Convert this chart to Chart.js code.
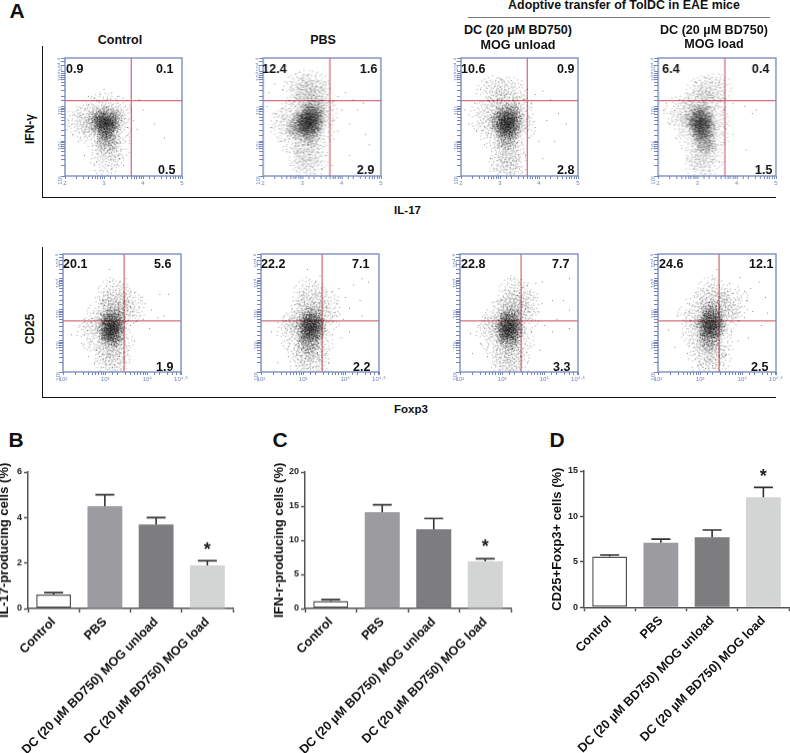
<!DOCTYPE html>
<html>
<head>
<meta charset="utf-8">
<script src="https://cdn.jsdelivr.net/npm/chart.js@4/dist/chart.umd.min.js"></script>
<style>
html, body { margin: 0; padding: 0; background: #fff; }
#page { position: relative; width: 790px; height: 753px; overflow: hidden; font-family: "Liberation Sans", Arial, sans-serif; }
#page canvas { position: absolute; }
.lbl { position: absolute; font-weight: bold; color: #111; white-space: nowrap; transform: translate(-50%, -50%); }
.line { position: absolute; background: #111; }
</style>
</head>
<body>
<div id="page"></div>
<script>
// bar values
const barCategories = ['Control', 'PBS', 'DC (20 µM BD750) MOG unload', 'DC (20 µM BD750) MOG load'];
const il17Values = [0.62, 4.5, 3.7, 1.9];
const il17ErrTop = [0.7, 5.0, 4.0, 2.1];
const ifnValues = [1.1, 14.1, 11.6, 6.9];
const ifnErrTop = [1.3, 15.2, 13.2, 7.3];
const cd25Values = [5.6, 7.1, 7.7, 12.1];
const cd25ErrTop = [5.75, 7.5, 8.5, 13.2];

// quadrant percentages, [upper left, upper right, lower right]
const ifnQuadrants = [['0.9', '0.1', '0.5'], ['12.4', '1.6', '2.9'], ['10.6', '0.9', '2.8'], ['6.4', '0.4', '1.5']];
const foxpQuadrants = [['20.1', '5.6', '1.9'], ['22.2', '7.1', '2.2'], ['22.8', '7.7', '3.3'], ['24.6', '12.1', '2.5']];

// gates, as log10 of the axis value
const ifnGate = [3.70, 3.17];
const foxpGate = [3.45, 2.645];

// Flow clouds are estimated by eye, [log10 x, log10 y]. The real events can't be read one
// by one: core and mid are local density centres drawn with a speckle marker, stray are
// single dots. The speckle only stands in for density, it is not individual events.
const p1Core = [[3.08,2.5],[3.0,2.7],[3.12,2.3],[3.08,2.0],[2.85,2.55],[3.2,2.65],[3.05,2.55],[3.0,2.4]];
const p1Mid = [[2.6,2.6],[2.4,2.55],[2.75,2.3],[3.3,2.4],[3.1,1.7],[3.05,1.4],[2.95,2.95],[3.3,2.85],[2.7,2.8],[3.3,1.9]];
const p1Stray = [[2.1,2.6],[2.2,2.2],[2.35,2.0],[2.5,1.6],[2.75,1.3],[2.9,1.15],[3.2,1.2],[3.4,1.5],[3.55,2.0],[3.6,2.4],[3.75,2.6],[3.85,2.35],[4.3,2.5],[4.0,2.9],[3.9,3.2],[2.6,3.3],[2.9,3.35],[3.2,3.4],[3.35,3.3],[3.45,2.9],[3.7,2.9],[4.55,2.1],[3.0,3.5],[2.75,3.25],[3.5,1.3]];

const p2Core = [[3.19,2.6],[3.1,2.5],[3.25,2.75],[3.2,2.4],[3.0,2.55],[3.1,2.75],[3.3,2.9],[3.2,2.2],[2.9,2.35],[3.3,2.5]];
const p2Mid = [[2.7,2.6],[2.55,2.5],[2.85,2.9],[3.1,3.3],[3.3,3.3],[2.9,3.5],[3.1,3.6],[3.3,3.55],[3.15,1.9],[3.05,1.65],[3.25,1.5],[3.45,2.3],[3.5,2.8],[2.8,2.05],[3.1,1.3],[3.4,3.05]];
const p2Stray = [[2.1,3.0],[2.15,3.4],[2.3,3.65],[2.5,3.5],[2.6,3.7],[2.3,2.8],[2.2,2.4],[2.45,2.0],[2.6,1.7],[2.7,1.3],[3.7,3.5],[3.75,3.1],[3.9,3.3],[4.0,2.9],[4.1,3.4],[3.8,2.6],[3.9,2.3],[3.7,2.0],[4.2,2.5],[4.4,2.9],[4.6,2.2],[4.55,3.1],[3.6,1.6],[3.5,1.2],[4.2,1.6],[3.75,1.3],[4.7,1.9],[4.3,3.2],[3.6,3.7],[2.85,1.15]];

const p3Core = [[3.2,2.55],[3.12,2.45],[3.3,2.6],[3.2,2.3],[3.1,2.7],[3.25,2.8],[3.0,2.55],[3.2,2.05],[3.3,2.4]];
const p3Mid = [[2.8,2.55],[3.0,2.95],[3.3,3.0],[3.05,3.4],[3.3,3.4],[2.8,3.4],[2.9,2.2],[3.2,1.8],[3.1,1.55],[3.3,1.4],[3.5,2.4],[3.5,2.8],[2.6,2.7],[3.15,1.2]];
const p3Stray = [[2.1,2.9],[2.2,2.5],[2.35,3.1],[2.4,2.3],[2.5,3.5],[2.65,3.7],[2.6,1.9],[2.75,1.5],[2.85,1.2],[3.0,3.8],[3.3,3.75],[3.7,3.5],[3.8,3.1],[3.9,3.35],[4.1,3.45],[4.3,3.2],[3.75,2.7],[3.9,2.4],[4.2,2.6],[4.5,2.8],[4.7,2.5],[4.0,2.0],[3.65,1.6],[3.5,1.2],[4.1,1.5],[3.75,2.1],[4.4,2.0],[3.6,3.2]];

const p4Core = [[3.12,2.5],[3.05,2.6],[3.2,2.4],[3.15,2.2],[3.15,2.75],[2.95,2.65],[3.2,1.95],[3.05,2.35]];
const p4Mid = [[2.7,2.6],[2.85,2.9],[3.05,3.05],[3.3,3.0],[3.3,3.4],[3.1,3.4],[3.45,3.5],[3.4,2.6],[2.85,2.2],[3.1,1.7],[3.25,1.5],[3.1,1.3],[3.4,2.1],[2.55,2.85]];
const p4Stray = [[2.15,2.9],[2.3,2.5],[2.4,3.0],[2.2,3.1],[2.45,2.1],[2.6,1.8],[2.75,1.5],[2.9,1.2],[2.75,3.4],[2.95,3.7],[3.3,3.8],[3.55,3.7],[3.7,3.2],[3.65,2.9],[3.75,2.5],[3.9,2.2],[3.6,1.9],[3.55,1.4],[4.2,3.0],[4.4,2.8],[3.9,3.1],[4.5,2.9],[4.25,1.75],[3.3,1.15]];

const p5Core = [[3.17,2.45],[3.1,2.55],[3.2,2.3],[3.15,2.1],[3.25,2.65],[3.05,2.35],[3.12,2.7],[3.2,2.2]];
const p5Mid = [[3.25,3.0],[3.15,3.0],[3.3,3.35],[3.2,3.55],[2.85,2.4],[2.7,2.2],[3.0,1.85],[3.15,1.7],[3.1,1.4],[3.25,1.25],[3.45,2.9],[3.6,3.1],[3.3,2.0],[2.95,2.95]];
const p5Stray = [[2.2,2.2],[2.4,2.5],[2.5,1.9],[2.6,1.5],[2.75,1.3],[2.5,2.7],[2.8,1.7],[3.1,3.9],[2.95,3.3],[3.35,3.9],[3.5,3.5],[3.7,3.55],[3.85,3.4],[3.95,3.2],[4.1,3.0],[4.3,3.5],[4.5,3.5],[4.4,2.8],[3.9,2.7],[3.6,2.5],[3.7,2.0],[3.55,1.7],[3.5,1.3],[4.05,2.4],[3.1,4.3],[4.25,2.75],[3.5,4.0]];

const p6Core = [[3.2,2.35],[3.15,2.55],[3.25,2.6],[3.2,2.15],[3.05,2.4],[3.28,2.4],[3.2,2.75],[3.12,1.95]];
const p6Mid = [[3.2,3.0],[3.05,2.95],[3.25,3.35],[3.15,3.55],[2.85,2.45],[2.75,2.2],[3.0,1.8],[3.15,1.6],[3.25,1.35],[3.05,1.3],[3.5,2.7],[3.55,3.1],[3.35,1.9],[2.9,2.7]];
const p6Stray = [[2.25,2.3],[2.4,2.6],[2.55,2.0],[2.4,1.3],[2.65,1.5],[2.85,1.2],[3.0,3.5],[3.1,4.3],[3.3,3.9],[3.7,3.6],[3.85,3.7],[4.0,3.4],[4.2,3.8],[4.4,4.0],[4.55,3.9],[3.8,3.2],[4.1,3.05],[4.35,3.3],[3.7,2.8],[3.95,2.7],[3.7,2.2],[3.9,2.1],[3.55,1.6],[4.4,2.8],[4.1,2.3],[3.6,1.3],[3.4,4.1]];

const p7Core = [[3.16,2.4],[3.1,2.55],[3.22,2.6],[3.18,2.2],[3.05,2.3],[3.25,2.35],[3.15,2.05],[3.2,2.75]];
const p7Mid = [[3.25,3.0],[3.35,3.3],[3.15,3.05],[3.3,3.6],[2.85,2.45],[2.75,2.2],[3.0,1.75],[3.15,1.55],[3.1,1.3],[3.3,1.3],[3.5,2.75],[3.55,3.2],[3.4,2.0],[2.95,2.8]];
const p7Stray = [[2.25,2.25],[2.45,2.5],[2.5,1.9],[2.65,1.5],[2.85,1.2],[2.6,2.75],[3.0,3.3],[3.4,3.9],[3.6,3.8],[3.8,3.85],[3.95,3.9],[3.75,3.4],[3.95,3.2],[4.2,3.3],[4.45,3.3],[4.6,3.0],[4.3,2.7],[4.0,2.5],[3.7,2.3],[3.55,1.9],[3.9,1.7],[3.6,1.3],[4.2,2.3],[4.6,2.4],[2.3,1.6],[3.2,4.0],[4.6,4.0]];

const p8Core = [[3.28,2.5],[3.2,2.65],[3.3,2.7],[3.25,2.25],[3.15,2.45],[3.35,2.45],[3.28,2.95],[3.22,2.05]];
const p8Mid = [[3.2,3.25],[3.35,3.3],[3.0,2.7],[2.95,2.25],[3.1,1.85],[3.25,1.6],[3.35,1.4],[3.55,2.8],[3.6,3.15],[3.8,3.25],[3.3,3.6],[3.45,2.0],[3.1,1.35],[2.85,2.9]];
const p8Stray = [[2.25,2.35],[2.45,2.8],[2.6,2.2],[2.7,1.6],[2.95,1.2],[2.75,3.2],[2.95,3.5],[3.3,4.0],[3.4,4.3],[3.7,3.85],[3.95,4.05],[4.05,3.6],[4.2,3.7],[4.4,3.9],[4.55,3.4],[4.6,2.9],[4.25,2.95],[4.05,2.75],[3.9,2.65],[3.75,2.3],[3.9,2.0],[4.15,2.1],[3.6,1.55],[3.55,1.2],[4.45,2.5],[2.4,1.8],[4.1,3.3]];

const page = document.getElementById('page');
const FONT = '"Liberation Sans", Arial, sans-serif';
const BLUE = '#7486bc';

function addCanvas(left, top, width, height) {
    const c = document.createElement('canvas');
    c.width = width;
    c.height = height;
    c.style.left = left + 'px';
    c.style.top = top + 'px';
    c.style.width = width + 'px';
    c.style.height = height + 'px';
    page.appendChild(c);
    return c;
}

function addText(text, x, y, size, rotate) {
    const d = document.createElement('div');
    d.className = 'lbl';
    d.textContent = text;
    d.style.left = x + 'px';
    d.style.top = y + 'px';
    d.style.fontSize = size + 'px';
    if (rotate) d.style.transform = 'translate(-50%, -50%) rotate(-90deg)';
    page.appendChild(d);
}

function addLine(x, y, w, h, color) {
    const d = document.createElement('div');
    d.className = 'line';
    d.style.cssText = 'left:' + x + 'px;top:' + y + 'px;width:' + w + 'px;height:' + h + 'px;' + (color ? 'background:' + color : '');
    page.appendChild(d);
}

// speckle marker, one fixed pattern of dots
const speckle = [[0,0],[2,-1],[-3,1],[1,3],[-1,-4],[4,2],[-5,-1],[3,-4],[-2,4],[6,0],[-6,3],[0,-7],[5,5],[-4,-5],[7,-3],[-7,-3],[2,7],[-3,8],[8,3],[-8,1],[4,-8],[-1,-9],[9,-1],[-5,7],[6,-6],[-9,-4],[1,10],[10,4],[-10,0],[3,-11],[-6,-9],[7,8],[-8,6],[11,-2],[-2,11],[-11,-5],[9,-7],[1,-2],[-2,-1],[3,1],[-1,2],[2,4],[-4,-2],[5,-2],[-3,-3],[0,5],[-5,4],[4,-1],[1,-5],[-7,0],[7,1],[6,3],[-3,6],[3,6],[-6,-4],[2,-6],[8,-4],[-9,3],[-1,8],[5,-5],[-4,9],[10,-5],[-10,-7],[4,10],[12,1],[-12,2],[0,-12],[6,-10],[-8,-8],[9,7]];

function makeStamp(scale, alpha) {
    const size = Math.ceil(26 * scale) + 4;
    const c = document.createElement('canvas');
    c.width = size;
    c.height = size;
    const g = c.getContext('2d');
    g.fillStyle = 'rgba(0,0,0,' + alpha + ')';
    speckle.forEach(p => g.fillRect(size / 2 + p[0] * scale, size / 2 + p[1] * scale, 1, 1));
    return c;
}
const coreStamp = makeStamp(0.85, 0.6);
const coreLightStamp = makeStamp(1.05, 0.3);
const midStamp = makeStamp(1.35, 0.38);

const toPoints = list => list.map(p => ({ x: Math.pow(10, p[0]), y: Math.pow(10, p[1]) }));

const plotBox = {
    id: 'plotBox',
    afterDatasetsDraw(chart, args, opts) {
        const a = chart.chartArea, g = chart.ctx;
        g.save();
        g.strokeStyle = BLUE;
        g.lineWidth = 1.3;
        g.strokeRect(a.left, a.top, a.right - a.left, a.bottom - a.top);
        g.fillStyle = '#111';
        g.font = 'bold 12.5px ' + FONT;
        g.textBaseline = 'middle';
        g.fillText(opts.quad[0], a.left + opts.ulX, a.top + opts.topY);
        g.fillText(opts.quad[1], a.left + opts.urX, a.top + opts.topY);
        g.fillText(opts.quad[2], a.left + opts.lrX, a.bottom - opts.botY);
        g.restore();
    }
};

function logTick(labels) {
    return function (v) {
        const e = Math.round(Math.log10(v) * 100) / 100;
        return labels[e] || '';
    };
}

function flowChart(p) {
    const c = addCanvas(p.left - 20, p.top - 8, p.width + 30, p.height + 28);
    new Chart(c, {
        type: 'scatter',
        data: {
            datasets: [
                { data: toPoints(p.core), pointStyle: coreStamp, pointRadius: 3, pointRotation: ctx => ctx.dataIndex * 67 },
                { data: toPoints(p.core), pointStyle: coreLightStamp, pointRadius: 3, pointRotation: ctx => ctx.dataIndex * 131 + 30 },
                { data: toPoints(p.mid), pointStyle: midStamp, pointRadius: 3, pointRotation: ctx => ctx.dataIndex * 53 },
                { data: toPoints(p.stray), pointRadius: 0.5, pointBackgroundColor: 'rgba(0,0,0,0.6)', pointBorderWidth: 0 },
                { data: toPoints([[p.gate[0], p.yMinExp], [p.gate[0], p.yMaxExp]]), showLine: true, pointRadius: 0, borderColor: '#d9707a', borderWidth: 1.3 },
                { data: toPoints([[p.xMinExp, p.gate[1]], [p.xMaxExp, p.gate[1]]]), showLine: true, pointRadius: 0, borderColor: '#d9707a', borderWidth: 1.3 }
            ]
        },
        plugins: [plotBox],
        options: {
            responsive: false,
            animation: false,
            layout: { padding: { top: 8, right: 10, left: 0, bottom: 0 } },
            plugins: {
                legend: { display: false },
                tooltip: { enabled: false },
                plotBox: p.text
            },
            scales: {
                x: {
                    type: 'logarithmic',
                    min: Math.pow(10, p.xMinExp),
                    max: Math.pow(10, p.xMaxExp),
                    afterFit: s => { s.height = 20; },
                    border: { display: false },
                    grid: { drawOnChartArea: false, tickLength: 3, tickColor: BLUE, tickWidth: 1 },
                    ticks: { autoSkip: false, maxRotation: 0, padding: 1, color: BLUE, font: { size: 6, family: FONT }, callback: logTick(p.xLabels) }
                },
                y: {
                    type: 'logarithmic',
                    min: Math.pow(10, p.yMinExp),
                    max: Math.pow(10, p.yMaxExp),
                    afterFit: s => { s.width = 20; },
                    border: { display: false },
                    grid: { drawOnChartArea: false, tickLength: 4, tickColor: BLUE, tickWidth: 1 },
                    ticks: { autoSkip: false, minRotation: 90, maxRotation: 90, padding: 1, color: BLUE, font: { size: 6, family: FONT }, callback: logTick(p.yLabels) }
                }
            }
        }
    });
}

const row1X = { 2: '2', 3: '3', 4: '4', 5: '5' };
const row1Y = { 1: '10¹', 2: '10²', 3: '10³', 4: '10⁴', 4.4: '10⁴·⁴' };
const row2X = { 2: '10²', 3: '10³', 4: '10⁴', 4.8: '10⁴·⁸' };
const row2Y = { 1: '10¹', 2: '10²', 3: '10³', 4: '10⁴', 4.8: '10⁴·⁸' };

const row1 = { top: 57.5, width: 117.5, height: 118, gate: ifnGate, xMinExp: 2, xMaxExp: 5, yMinExp: 1, yMaxExp: 4.4, xLabels: row1X, yLabels: row1Y };
const row2 = { top: 254, width: 118, height: 118, gate: foxpGate, xMinExp: 2, xMaxExp: 4.8, yMinExp: 1, yMaxExp: 4.8, xLabels: row2X, yLabels: row2Y };
const textTop = (quad, ulX, urX, lrX) => ({ quad, ulX, urX, lrX, topY: 12, botY: 5 });
const textLow = (quad, ulX, urX, lrX) => ({ quad, ulX, urX, lrX, topY: 11, botY: 4.5 });

flowChart({ ...row1, left: 64.5, core: p1Core, mid: p1Mid, stray: p1Stray, text: textTop(ifnQuadrants[0], 1, 91, 93) });
flowChart({ ...row1, left: 263, core: p2Core, mid: p2Mid, stray: p2Stray, text: textTop(ifnQuadrants[1], -1, 96, 93) });
flowChart({ ...row1, left: 460.5, core: p3Core, mid: p3Mid, stray: p3Stray, text: textTop(ifnQuadrants[2], 0, 96, 96) });
flowChart({ ...row1, left: 658, core: p4Core, mid: p4Mid, stray: p4Stray, text: textTop(ifnQuadrants[3], 4, 93, 96) });
flowChart({ ...row2, left: 62.5, core: p5Core, mid: p5Mid, stray: p5Stray, text: textLow(foxpQuadrants[0], 0, 91, 93) });
flowChart({ ...row2, left: 261, core: p6Core, mid: p6Mid, stray: p6Stray, text: textLow(foxpQuadrants[1], 0, 91, 92) });
flowChart({ ...row2, left: 459.5, core: p7Core, mid: p7Mid, stray: p7Stray, text: textLow(foxpQuadrants[2], 1, 92, 93) });
flowChart({ ...row2, left: 657.5, core: p8Core, mid: p8Mid, stray: p8Stray, text: textLow(foxpQuadrants[3], 1, 91, 93) });

const errorBars = {
    id: 'errorBars',
    afterDatasetsDraw(chart, args, opts) {
        const g = chart.ctx, x = chart.scales.x, y = chart.scales.y;
        g.save();
        g.strokeStyle = '#333';
        g.lineWidth = 1.6;
        opts.top.forEach((v, i) => {
            const cx = x.getPixelForValue(i);
            g.beginPath();
            g.moveTo(cx, y.getPixelForValue(chart.data.datasets[0].data[i]));
            g.lineTo(cx, y.getPixelForValue(v));
            g.moveTo(cx - 9.5, y.getPixelForValue(v));
            g.lineTo(cx + 9.5, y.getPixelForValue(v));
            g.stroke();
        });
        g.fillStyle = '#222';
        g.font = 'bold 18px ' + FONT;
        g.textAlign = 'center';
        g.textBaseline = 'middle';
        g.fillText('*', x.getPixelForValue(3), y.getPixelForValue(opts.star) + 3);
        g.restore();
    }
};

function barChart(b) {
    const c = addCanvas(b.canvasLeft, b.chartTop - 10, b.canvasWidth, 753 - b.chartTop + 10);
    new Chart(c, {
        type: 'bar',
        data: {
            labels: barCategories,
            datasets: [{
                data: b.values,
                backgroundColor: ['#ffffff', '#9b9ba0', '#7d7d7f', '#d3d5d4'],
                borderColor: ['#555555', '#9b9ba0', '#7d7d7f', '#d3d5d4'],
                borderWidth: [1.5, 0, 0, 0],
                borderSkipped: false,
                barPercentage: 0.68,
                categoryPercentage: 1
            }]
        },
        plugins: [errorBars],
        options: {
            responsive: false,
            animation: false,
            layout: { padding: { top: 10, right: b.right, left: 0, bottom: 0 } },
            plugins: {
                legend: { display: false },
                tooltip: { enabled: false },
                errorBars: { top: b.errTop, star: b.star }
            },
            scales: {
                x: {
                    afterFit: s => { s.height = 753 - b.zeroY; },
                    border: { color: '#555', width: 1.5 },
                    grid: { drawOnChartArea: false, tickLength: 4, tickColor: '#555', tickWidth: 1.5 },
                    ticks: { autoSkip: false, minRotation: 45, maxRotation: 45, padding: 2, color: '#111', font: { size: 12.6, weight: 'bold', family: FONT } }
                },
                y: {
                    min: 0,
                    max: b.max,
                    afterFit: s => { s.width = b.axisWidth; },
                    border: { color: '#555', width: 1.5 },
                    title: { display: true, text: b.title, color: '#111', padding: 0, font: { size: 13, weight: 'bold', family: FONT } },
                    grid: { drawOnChartArea: false, tickLength: 4, tickColor: '#555', tickWidth: 1.5 },
                    ticks: { stepSize: b.step, padding: 2, color: '#222', font: { size: 9, weight: 'bold', family: FONT } }
                }
            }
        }
    });
}

barChart({ canvasLeft: -3, canvasWidth: 238, axisWidth: 31, right: 2, chartTop: 472.3, zeroY: 609, values: il17Values, errTop: il17ErrTop, max: 6, step: 2, star: 2.68, title: 'IL-17-producing cells (%)' });
barChart({ canvasLeft: 272, canvasWidth: 241, axisWidth: 33, right: 2, chartTop: 472.3, zeroY: 609, values: ifnValues, errTop: ifnErrTop, max: 20, step: 5, star: 9.36, title: 'IFN-r-producing cells (%)' });
barChart({ canvasLeft: 550, canvasWidth: 240, axisWidth: 34, right: 1, chartTop: 471, zeroY: 607.3, values: cd25Values, errTop: cd25ErrTop, max: 15, step: 5, star: 14.67, title: 'CD25+Foxp3+ cells (%)' });

// figure frame and captions
addLine(41.5, 46, 1.5, 151.5);
addLine(41.5, 196.5, 734.5, 1.5);
addLine(41.5, 247, 1.5, 150.5);
addLine(41.5, 396.5, 734.5, 1.5);
addLine(468, 16.5, 302, 1, '#777');

addText('A', 17, 11, 21);
addText('B', 16, 440, 21);
addText('C', 280, 440, 21);
addText('D', 557, 440, 21);
addText('Control', 120, 40, 12.5);
addText('PBS', 323, 40, 12.5);
addText('Adoptive transfer of ToIDC in EAE mice', 624, 5, 12.4);
addText('DC (20 µM BD750)', 518, 30, 12.6);
addText('MOG unload', 518, 45, 12.6);
addText('DC (20 µM BD750)', 714, 30, 12.6);
addText('MOG load', 714, 44, 12.6);
addText('IFN-γ', 30, 129, 12, true);
addText('CD25', 30, 329, 12, true);
addText('IL-17', 407.5, 210, 11.5);
addText('Foxp3', 411, 409, 11.5);
</script>
</body>
</html>
